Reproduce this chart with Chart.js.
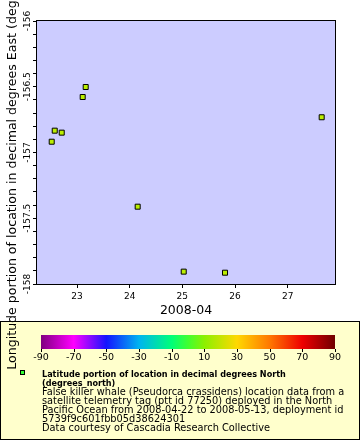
<!DOCTYPE html>
<html><head><meta charset="utf-8">
<script src="https://cdn.jsdelivr.net/npm/chart.js@4"></script>
<style>html,body{margin:0;padding:0;background:#fff}canvas{display:block}</style>
</head><body>
<canvas id="c" width="360" height="440"></canvas>
<script>
// ---- data ----
const dayOfApril2008 = [23.165, 23.108, 27.645, 22.577, 22.710, 22.520, 24.152, 25.026, 25.810];
const longitudeEast = [-156.502, -156.578, -156.732, -156.834, -156.849, -156.918, -157.412, -157.906, -157.914];
const xTickValues = [23, 24, 25, 26, 27];
const yMajorTicks = [-158, -157.5, -157, -156.5, -156];
const yMinorStep = 0.1;
const colorbarTicks = [-90, -70, -50, -30, -10, 10, 30, 50, 70, 90];
const colorbarStops = [-90, -70, -50, -30, -10, 0, 10, 30, 50, 70, 90];
const colorbarColors = ['#800080', '#ff00ff', '#1414ff', '#00b4f0', '#00ff78', '#40ff30', '#8cf000', '#ffd800', '#ff7800', '#ee0000', '#700000'];
const legendTitle = ['Latitude portion of location in decimal degrees North', '(degrees_north)'];
const legendLines = [
  'False killer whale (Pseudorca crassidens) location data from a',
  'satellite telemetry tag (ptt id 77250) deployed in the North',
  'Pacific Ocean from 2008-04-22 to 2008-05-13, deployment id',
  '5739f9c601fbb05d38624301',
  'Data courtesy of Cascadia Research Collective'
];

const yTickValues = [];
for (let v = yMajorTicks[0]; v <= yMajorTicks[yMajorTicks.length - 1] + 1e-9; v += yMinorStep) {
  yTickValues.push(Math.round(v * 10) / 10);
}

const deco = {
  id: 'deco',
  beforeDraw(chart) {
    const {ctx, chartArea: a} = chart;
    ctx.save();
    ctx.fillStyle = '#ffffff'; ctx.fillRect(0, 0, 360, 440);
    ctx.fillStyle = '#ccccff'; ctx.fillRect(a.left, a.top, a.right - a.left, a.bottom - a.top);
    // legend box
    ctx.fillStyle = '#ffffcc'; ctx.fillRect(0, 321, 360, 119);
    ctx.strokeStyle = '#000'; ctx.lineWidth = 1; ctx.strokeRect(0.5, 321.5, 359, 118);
    // colorbar
    const x0 = 41, x1 = 335, y0 = 335, y1 = 349;
    const g = ctx.createLinearGradient(x0, 0, x1, 0);
    colorbarStops.forEach((v, i) => g.addColorStop((v + 90) / 180, colorbarColors[i]));
    ctx.fillStyle = g; ctx.fillRect(x0, y0, x1 - x0, y1 - y0);
    ctx.fillStyle = '#000'; ctx.strokeStyle = '#000';
    ctx.font = '9.5px "DejaVu Sans"'; ctx.textAlign = 'center'; ctx.textBaseline = 'alphabetic';
    colorbarTicks.forEach(v => {
      const x = x0 + (v + 90) / 180 * (x1 - x0);
      ctx.beginPath(); ctx.moveTo(Math.round(x) + 0.5, y1); ctx.lineTo(Math.round(x) + 0.5, y1 + 3); ctx.stroke();
      ctx.fillText(String(v), x, 359.5);
    });
    // legend marker
    ctx.fillStyle = '#33ff33'; ctx.fillRect(20, 370, 5, 5);
    ctx.strokeRect(20.5, 370.5, 4, 4);
    // legend text
    ctx.fillStyle = '#000'; ctx.textAlign = 'left';
    ctx.font = 'bold 9px "DejaVu Sans Condensed", "DejaVu Sans"';
    legendTitle.forEach((t, i) => ctx.fillText(t, 42, 376.5 + 9 * i));
    ctx.font = '9.8px "DejaVu Sans"';
    legendLines.forEach((t, i) => ctx.fillText(t, 42, 376.5 + 9 * (i + 2)));
    ctx.restore();
  },
  afterDatasetsDraw(chart) {
    const {ctx, chartArea: a} = chart;
    ctx.save();
    ctx.strokeStyle = '#000'; ctx.lineWidth = 1;
    ctx.strokeRect(a.left - 0.5, a.top - 0.5, a.right - a.left + 1, a.bottom - a.top + 1);
    ctx.restore();
  }
};

new Chart(document.getElementById('c'), {
  type: 'scatter',
  data: {
    datasets: [{
      data: dayOfApril2008.map((d, i) => ({x: d, y: longitudeEast[i]})),
      pointStyle: 'rect', pointRadius: 3.536, pointHoverRadius: 3.536,
      backgroundColor: '#bbee00', borderColor: '#000', borderWidth: 1
    }]
  },
  options: {
    responsive: false, animation: false, devicePixelRatio: 1, events: [],
    layout: {padding: {left: 4, top: 21, right: 25, bottom: 120}},
    plugins: {legend: {display: false}, tooltip: {enabled: false}},
    scales: {
      x: {
        type: 'linear', min: 22.2406, max: 27.898, bounds: 'data',
        afterFit(s) { s.height = 36; },
        afterBuildTicks(s) { s.ticks = xTickValues.map(v => ({value: v})); },
        ticks: {font: {family: 'DejaVu Sans', size: 9}, color: '#000', padding: 3, autoSkip: false, maxRotation: 0, callback: v => String(v)},
        grid: {drawOnChartArea: false, drawTicks: true, tickLength: 4, color: '#000'},
        border: {display: false},
        title: {display: true, text: '2008-04', font: {family: 'DejaVu Sans', size: 12.5}, color: '#000', padding: {top: 0, bottom: 2}}
      },
      y: {
        type: 'linear', min: -158, max: -156, bounds: 'data',
        afterFit(s) { s.width = 33; },
        afterBuildTicks(s) { s.ticks = yTickValues.map(v => ({value: v})); },
        ticks: {
          font: {family: 'DejaVu Sans', size: 9}, color: '#000', autoSkip: false,
          minRotation: 90, maxRotation: 90, crossAlign: 'center', padding: -9.5,
          callback: v => yMajorTicks.some(m => Math.abs(m - v) < 1e-6) ? String(v) : ''
        },
        grid: {drawOnChartArea: false, drawTicks: true, tickLength: 4, color: '#000'},
        border: {display: false},
        title: {display: true, text: 'Longitude portion of location in decimal degrees East (degrees_east)', font: {family: 'DejaVu Sans', size: 12.6}, color: '#000', padding: {top: 1, bottom: 0}}
      }
    }
  },
  plugins: [deco]
});
</script>
</body></html>
